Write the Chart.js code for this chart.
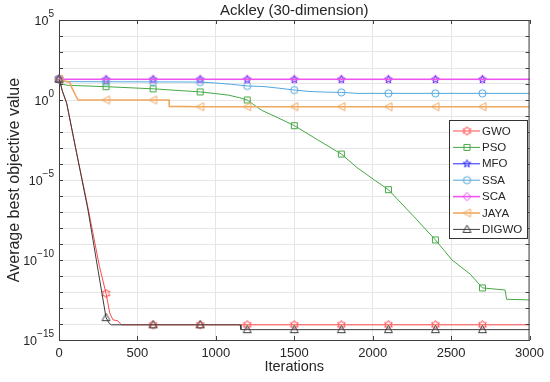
<!DOCTYPE html>
<html><head><meta charset="utf-8">
<script src="https://cdn.jsdelivr.net/npm/chart.js@4"></script>
<style>html,body{margin:0;padding:0;background:#fff}</style>
</head><body>
<canvas id="c" width="550" height="382"></canvas>
<script>
// ---------- data ----------
const seriesNames = ['GWO','PSO','MFO','SSA','SCA','JAYA','DIGWO'];

const gwoIter = [0,10,20,49,112,175,216,258,300,312,323,344,375,397,600,900,1200,1500,1800,2100,2400,2700,3000];
const gwoVal  = [20,10,4,0.63,5e-4,5.6e-7,5e-9,4e-11,8e-13,2e-13,5e-14,1.8e-14,1.6e-14,8.88e-15,8.88e-15,8.88e-15,8.88e-15,8.88e-15,8.88e-15,8.88e-15,8.88e-15,8.88e-15,8.88e-15];

const psoIter = [0,20,50,300,600,900,1000,1082,1150,1200,1291,1399,1500,1650,1800,1900,2011,2100,2264,2400,2506,2622,2700,2844,2854,3000];
const psoVal  = [20,10,8.3,6.8,5,3.2,2.5,2,1.4,1.0,0.23,0.075,0.025,3.2e-3,4.2e-4,6e-5,1e-5,2.5e-6,5e-8,1.8e-9,1e-10,1.3e-11,1.8e-12,1.33e-12,3.5e-13,3.2e-13];

const mfoIter = [0,10,300,600,900,1200,1500,1800,2100,2400,2700,3000];
const mfoVal  = [20,19,19,19,19,19,19,19,19,19,19,19];

const ssaIter = [0,10,300,600,900,1000,1100,1200,1300,1400,1500,1600,1700,1800,1900,2100,2400,2700,3000];
const ssaVal  = [20,14,13.8,13.5,13.2,11.5,9.5,7.5,7,5.5,4.2,3.4,3.1,3.0,2.6,2.6,2.6,2.6,2.6];

const scaIter = [0,300,600,900,1200,1500,1800,2100,2400,2700,3000];
const scaVal  = [20,20,20,20,20,20,20,20,20,20,20];

const jayaIter = [0,30,70,80,95,110,122,300,600,702,703,900,1200,1500,1800,2100,2400,2700,3000];
const jayaVal  = [20,16,12.6,6.3,3.2,1.6,1.0,1.0,1.0,1.0,0.4,0.38,0.38,0.38,0.38,0.38,0.38,0.38,0.38];

const digwoIter = [0,10,20,49,112,185,250,300,320,333,600,900,1155,1160,1200,1500,1800,2100,2400,2700,3000];
const digwoVal  = [20,10,4,0.63,5e-4,1.3e-7,2e-11,2.5e-14,1.1e-14,8.88e-15,8.88e-15,8.88e-15,8.88e-15,4.44e-15,4.44e-15,4.44e-15,4.44e-15,4.44e-15,4.44e-15,4.44e-15,4.44e-15];

const xTickValues = [0,500,1000,1500,2000,2500,3000];
const yLabelExps = [-15,-10,-5,0,5];
const yDecadeExps = [-15,-14,-13,-12,-11,-10,-9,-8,-7,-6,-5,-4,-3,-2,-1,0,1,2,3,4,5];
const markerEvery = 300;
const xMax = 3000;

// ---------- styles ----------
const FONT = "'Liberation Sans', Arial, sans-serif";
const TXT = '#262626';
const AXC = '#404040';
const GRID = '#e6e6e6';
const colors = ['#FF4a4a','#45A845','#2424FF','#52A6DE','#EE55EE','#F0A860','#3c3c3c'];
const shapes = ['hexagram','square','pentagram','circle','diamond','ltri','tri'];
const widths = [1,1,1,1,1.6,1.6,1];

function makeMarker(shape, color) {
  const s = 13, c = document.createElement('canvas');
  c.width = s; c.height = s;
  const g = c.getContext('2d');
  g.strokeStyle = color; g.lineWidth = 1;
  g.translate(s/2, s/2);
  g.beginPath();
  const star = (n, R, r) => {
    for (let i = 0; i < 2*n; i++) {
      const a = -Math.PI/2 + i*Math.PI/n, rr = i%2 ? r : R;
      const px = rr*Math.cos(a), py = rr*Math.sin(a);
      i ? g.lineTo(px,py) : g.moveTo(px,py);
    }
  };
  if (shape === 'hexagram') star(6, 4.4, 2.6);
  else if (shape === 'pentagram') star(5, 4.0, 1.7);
  else if (shape === 'square') g.rect(-3,-3,6,6);
  else if (shape === 'circle') g.arc(0,0,3.6,0,Math.PI*2);
  else if (shape === 'diamond') { g.moveTo(0,-4.3); g.lineTo(3.8,0); g.lineTo(0,4.3); g.lineTo(-3.8,0); }
  else if (shape === 'ltri') { g.moveTo(-4,0); g.lineTo(3.5,-4); g.lineTo(3.5,4); }
  else if (shape === 'tri') { g.moveTo(0,-4.3); g.lineTo(4,3); g.lineTo(-4,3); }
  g.closePath(); g.stroke();
  return c;
}
const markers = shapes.map((s,i) => makeMarker(s, colors[i]));

const iters = [gwoIter, psoIter, mfoIter, ssaIter, scaIter, jayaIter, digwoIter];
const vals = [gwoVal, psoVal, mfoVal, ssaVal, scaVal, jayaVal, digwoVal];

const datasets = seriesNames.map((name, i) => ({
  label: name,
  data: iters[i].map((x, k) => ({x: x, y: vals[i][k]})),
  borderColor: colors[i],
  borderWidth: widths[i],
  backgroundColor: 'rgba(0,0,0,0)',
  pointStyle: markers[i],
  pointRadius: ctx => (ctx.raw && ctx.raw.x % markerEvery === 0 && ctx.raw.x < xMax) ? 4 : 0,
  pointHoverRadius: 0,
  tension: 0,
  fill: false,
  clip: false,
  order: seriesNames.length - 1 - i
}));

// ---------- plugins ----------
const frame = {
  id: 'frame',
  afterDraw(chart) {
    const {ctx, chartArea: a, scales: {x, y}} = chart;
    ctx.save();
    ctx.strokeStyle = AXC; ctx.lineWidth = 1;
    ctx.beginPath();
    ctx.moveTo(a.left, a.top + 0.5); ctx.lineTo(a.right, a.top + 0.5);
    ctx.moveTo(a.right - 0.5, a.top); ctx.lineTo(a.right - 0.5, a.bottom);
    xTickValues.forEach(v => {
      const px = Math.round(x.getPixelForValue(v)) + 0.5;
      ctx.moveTo(px, a.bottom); ctx.lineTo(px, a.bottom - 4);
      ctx.moveTo(px, a.top); ctx.lineTo(px, a.top + 4);
    });
    yDecadeExps.forEach(e => {
      const py = Math.round(y.getPixelForValue(Number('1e' + e))) + 0.5;
      ctx.moveTo(a.left, py); ctx.lineTo(a.left + 4, py);
      ctx.moveTo(a.right, py); ctx.lineTo(a.right - 4, py);
    });
    ctx.stroke();

    // y tick labels 10^n
    ctx.fillStyle = TXT;
    const rightX = a.left - 5;
    yLabelExps.forEach(e => {
      const py = y.getPixelForValue(Number('1e' + e));
      const sup = (e < 0 ? '\u2212' + (-e) : String(e));
      ctx.font = '10px ' + FONT;
      const sw = ctx.measureText(sup).width;
      ctx.textBaseline = 'middle';
      ctx.textAlign = 'left';
      ctx.fillText(sup, rightX - sw, py - 5.5);
      ctx.font = '12.5px ' + FONT;
      ctx.textAlign = 'right';
      ctx.fillText('10', rightX - sw, py + 1.5);
    });

    // legend
    const lx = 449, ly = 120, lw = 78, lh = 118, rowH = 16.4;
    ctx.fillStyle = '#fff';
    ctx.fillRect(lx, ly, lw, lh);
    ctx.strokeStyle = '#333';
    ctx.lineWidth = 1;
    ctx.strokeRect(lx + 0.5, ly + 0.5, lw, lh);
    chart.data.datasets.forEach((ds, i) => {
      const ry = ly + 11 + i * rowH;
      ctx.strokeStyle = ds.borderColor; ctx.lineWidth = ds.borderWidth;
      ctx.beginPath(); ctx.moveTo(453, ry); ctx.lineTo(480, ry); ctx.stroke();
      const m = ds.pointStyle;
      ctx.drawImage(m, 467 - m.width/2, ry - m.height/2);
      ctx.fillStyle = TXT;
      ctx.font = '11.5px ' + FONT;
      ctx.textAlign = 'left'; ctx.textBaseline = 'middle';
      ctx.fillText(ds.label, 482, ry + 0.5);
    });
    ctx.restore();
  }
};

new Chart(document.getElementById('c'), {
  type: 'line',
  data: { datasets },
  options: {
    responsive: false,
    animation: false,
    events: [],
    layout: { padding: { left: 0, right: 17, top: 0, bottom: 0 } },
    plugins: {
      legend: { display: false },
      tooltip: { enabled: false },
      title: {
        display: true, text: 'Ackley (30-dimension)', fullSize: false,
        color: TXT, font: { family: FONT, size: 15, weight: 'normal' },
        padding: { top: 2, bottom: 0 }
      }
    },
    scales: {
      x: {
        type: 'linear', min: 0, max: xMax,
        afterBuildTicks: s => { s.ticks = xTickValues.map(v => ({ value: v })); },
        afterFit: s => { s.height = 42; },
        ticks: { color: TXT, font: { family: FONT, size: 13 }, padding: 6, maxRotation: 0, callback: v => String(v) },
        grid: { color: GRID, drawTicks: false },
        border: { color: AXC },
        title: { display: true, text: 'Iterations', color: TXT, font: { family: FONT, size: 14.5 }, padding: { top: 0, bottom: 6 } }
      },
      y: {
        type: 'logarithmic', min: 1e-15, max: 1e5,
        afterBuildTicks: s => { s.ticks = yDecadeExps.map(e => ({ value: Number('1e' + e) })); },
        afterFit: s => { s.width = 59; },
        ticks: { display: false },
        grid: { color: GRID, drawTicks: false },
        border: { color: AXC },
        title: { display: true, text: 'Average best objective value', color: TXT, font: { family: FONT, size: 16 }, padding: { top: 5, bottom: 0 } }
      }
    }
  },
  plugins: [frame]
});
</script>
</body></html>
